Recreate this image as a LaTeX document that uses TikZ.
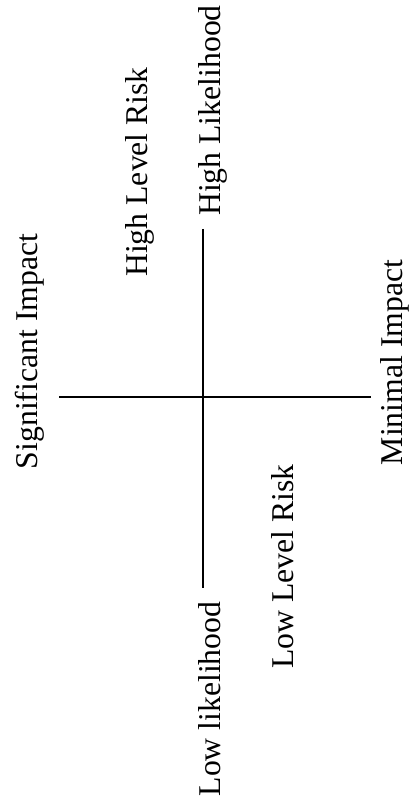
\documentclass[tikz,border=0pt]{standalone}
\usepackage{fontspec}
\setmainfont{Liberation Serif}

\begin{document}
\begin{tikzpicture}[
    x=1pt, y=1pt,
    axis line/.style={draw=black, line width=2pt},
    axis label/.style={font=\fontsize{31.7}{38}\selectfont, rotate=90,
        anchor=base, inner sep=0pt},
    zone label/.style={axis label},
]
\useasboundingbox (0,0) rectangle (410,810);

% ══════════════════════════════════════════════════════════════════════
%  DIMENSIONS — the two axes cross at (\Vx,\Hy)
% ══════════════════════════════════════════════════════════════════════
\def\Vx{203}   \def\Vtop{581}  \def\Vbot{222}
\def\Hy{413}   \def\Hleft{59}  \def\Hright{371}

\coordinate (axis top)    at (\Vx,\Vtop);
\coordinate (axis bottom) at (\Vx,\Vbot);
\coordinate (axis left)   at (\Hleft,\Hy);
\coordinate (axis right)  at (\Hright,\Hy);

% ── Axes ──────────────────────────────────────────────────────────────
\draw[axis line] (axis top) -- (axis bottom);
\draw[axis line] (axis left) -- (axis right);

% ── Axis ends ─────────────────────────────────────────────────────────
\node[axis label] (high like) at (220,699.5) {High Likelihood};
\node[axis label] (low like)  at (220,111)   {Low likelihood};
\node[axis label] (sig imp)   at (37,458.5)  {Significant Impact};
\node[axis label] (min imp)   at (402,447.5) {Minimal Impact};

% ── Risk zones ────────────────────────────────────────────────────────
\node[zone label] (high risk) at (147,638)   {High Level Risk};
\node[zone label] (low risk)  at (293,243.5) {Low Level Risk};

\end{tikzpicture}
\end{document}
